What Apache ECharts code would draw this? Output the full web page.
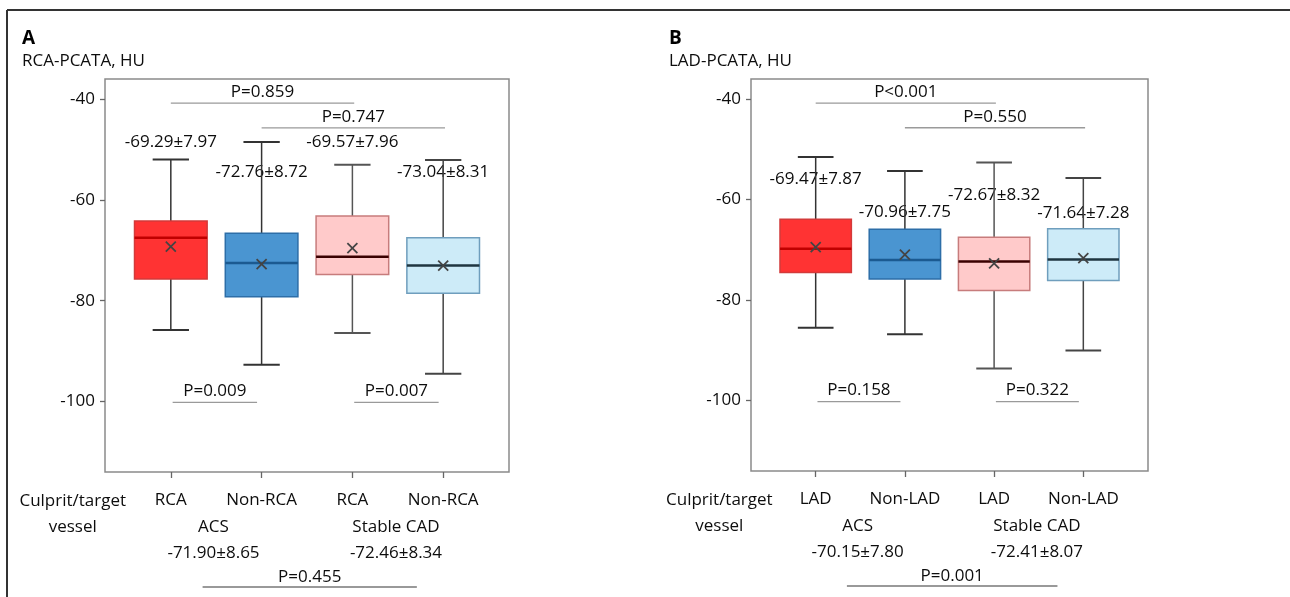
<!DOCTYPE html>
<html>
<head>
<meta charset="utf-8">
<script src="https://cdn.jsdelivr.net/npm/echarts@6/dist/echarts.min.js"></script>
<style>
  html, body { margin: 0; padding: 0; background: #fff; }
  #chart { width: 1290px; height: 597px; }
</style>
</head>
<body>
<div id="chart"></div>
<script>
// ---- data ----
const vesselsA = ['RCA', 'Non-RCA', 'RCA', 'Non-RCA'];
const vesselsB = ['LAD', 'Non-LAD', 'LAD', 'Non-LAD'];
const groups = ['ACS', 'Stable CAD'];
const yTicks = [-40, -60, -80, -100];

// panel A: RCA-PCATA
const lowA = [-85.8, -92.7, -86.4, -94.5];
const q1A = [-75.7, -79.2, -74.8, -78.5];
const medA = [-67.5, -72.5, -71.3, -73.0];
const q3A = [-64.2, -66.6, -63.2, -67.5];
const highA = [-52.0, -48.5, -53.0, -52.1];
const meanA = [-69.29, -72.76, -69.57, -73.04];
const sdA = [7.97, 8.72, 7.96, 8.31];
const groupMeanA = [-71.90, -72.46];
const groupSdA = [8.65, 8.34];
const pAcrossA = ['P=0.859', 'P=0.747'];   // vessel 1 vs 3, 2 vs 4
const pWithinA = ['P=0.009', 'P=0.007'];   // within ACS, within stable CAD
const pGroupA = 'P=0.455';

// panel B: LAD-PCATA
const lowB = [-85.5, -86.8, -93.6, -90.0];
const q1B = [-74.5, -75.8, -78.1, -76.1];
const medB = [-69.8, -72.0, -72.3, -71.9];
const q3B = [-63.9, -65.9, -67.5, -65.8];
const highB = [-51.5, -54.3, -52.6, -55.7];
const meanB = [-69.47, -70.96, -72.67, -71.64];
const sdB = [7.87, 7.75, 8.32, 7.28];
const groupMeanB = [-70.15, -72.41];
const groupSdB = [7.80, 8.07];
const pAcrossB = ['P<0.001', 'P=0.550'];
const pWithinB = ['P=0.158', 'P=0.322'];
const pGroupB = 'P=0.001';

// ---- layout ----
const FONT = '"Open Sans", "Noto Sans", sans-serif';
const TXT = '#0d0d0d';
const Y_MIN = -114, Y_MAX = -36;
const labelLevelA = [-48.5, -54.5, -48.5, -54.5];
const labelLevelB = [-56.0, -62.5, -59.2, -62.6];
const boxColors = [
  { fill: '#ff3333', border: '#d33a3a', median: '#c00000', whisker: '#333' },
  { fill: '#4a95d1', border: '#2d6ea8', median: '#1b5a91', whisker: '#333' },
  { fill: '#ffcaca', border: '#c77c7c', median: '#3a0000', whisker: '#555' },
  { fill: '#cdebf8', border: '#6f9ebd', median: '#1e3540', whisker: '#444' }
];

const fmt = (m, s) => m.toFixed(2) + '±' + s.toFixed(2);

function boxData(low, q1, med, q3, high, mean) {
  return low.map((v, i) => [i + 1, v, q1[i], med[i], q3[i], high[i], mean[i]]);
}

function renderBox(params, api) {
  const x = api.value(0);
  const lo = api.coord([x, api.value(1)]);
  const q1 = api.coord([x, api.value(2)]);
  const md = api.coord([x, api.value(3)]);
  const q3 = api.coord([x, api.value(4)]);
  const hi = api.coord([x, api.value(5)]);
  const mn = api.coord([x, api.value(6)]);
  const bw = api.size([0.8, 0])[0];
  const cw = api.size([0.4, 0])[0];
  const c = boxColors[params.dataIndex];
  const wStyle = { stroke: c.whisker, lineWidth: 1.5 };
  const cx = lo[0];
  const m = 5;
  return {
    type: 'group',
    children: [
      { type: 'line', shape: { x1: cx, y1: hi[1], x2: cx, y2: q3[1] }, style: wStyle },
      { type: 'line', shape: { x1: cx, y1: q1[1], x2: cx, y2: lo[1] }, style: wStyle },
      { type: 'line', shape: { x1: cx - cw / 2, y1: hi[1], x2: cx + cw / 2, y2: hi[1] }, style: { stroke: c.whisker, lineWidth: 2 } },
      { type: 'line', shape: { x1: cx - cw / 2, y1: lo[1], x2: cx + cw / 2, y2: lo[1] }, style: { stroke: c.whisker, lineWidth: 2 } },
      { type: 'rect', shape: { x: cx - bw / 2, y: q3[1], width: bw, height: q1[1] - q3[1] },
        style: { fill: c.fill, stroke: c.border, lineWidth: 1.5 } },
      { type: 'line', shape: { x1: cx - bw / 2, y1: md[1], x2: cx + bw / 2, y2: md[1] }, style: { stroke: c.median, lineWidth: 2.5 } },
      { type: 'line', shape: { x1: mn[0] - m, y1: mn[1] - m, x2: mn[0] + m, y2: mn[1] + m }, style: { stroke: '#444', lineWidth: 1.8 } },
      { type: 'line', shape: { x1: mn[0] - m, y1: mn[1] + m, x2: mn[0] + m, y2: mn[1] - m }, style: { stroke: '#444', lineWidth: 1.8 } }
    ]
  };
}

function text(x, y, s, extra) {
  return { type: 'text', x: x, y: y,
    style: Object.assign({ text: s, fill: TXT, font: '17px ' + FONT, align: 'center', verticalAlign: 'middle' }, extra || {}) };
}
function hline(x1, x2, y, color) {
  return { type: 'line', shape: { x1: x1, y1: y, x2: x2, y2: y }, style: { stroke: color || '#9a9a9a', lineWidth: 1.3 } };
}

function annotations(mean, sd, levels, pAcross, pWithin, pGroup, gMean, gSd) {
  return function (params, api) {
    const kids = [];
    const at = (x, y) => api.coord([x, y]);
    // mean ± SD above each box
    mean.forEach((v, i) => {
      const p = at(i + 1, levels[i]);
      kids.push(text(p[0], p[1], fmt(v, sd[i])));
    });
    // across-group comparisons (top)
    [[1, 3, -40.8], [2, 4, -45.7]].forEach((b, i) => {
      const a = at(b[0], b[2]), z = at(b[1] + 0.02, b[2]);
      kids.push(hline(a[0], z[0], a[1]));
      kids.push(text((a[0] + z[0]) / 2, a[1] - 11, pAcross[i]));
    });
    // within-group comparisons (bottom of plot)
    [1, 3].forEach((s, i) => {
      const a = at(s + 0.02, -100.2), z = at(s + 0.95, -100.2);
      kids.push(hline(a[0], z[0], a[1]));
      kids.push(text((a[0] + z[0]) / 2, a[1] - 11, pWithin[i]));
    });
    // rows under the axis
    const base = at(0, Y_MIN)[1];
    const lx = at(-0.08, Y_MIN)[0];
    kids.push(text(lx, base + 29, 'Culprit/target'));
    kids.push(text(lx, base + 55, 'vessel'));
    [1.47, 3.48].forEach((g, i) => {
      const gx = at(g, Y_MIN)[0];
      kids.push(text(gx, base + 55, groups[i]));
      kids.push(text(gx, base + 81, fmt(gMean[i], gSd[i])));
    });
    const a = at(1.35, Y_MIN)[0], z = at(3.71, Y_MIN)[0];
    kids.push(text((a + z) / 2, base + 105, pGroup));
    kids.push(hline(a, z, base + 115, '#777'));
    return { type: 'group', children: kids };
  };
}

function xAxis(grid, names) {
  return {
    type: 'value', gridIndex: grid, min: 0.275, max: 4.725,
    axisLine: { show: false }, splitLine: { show: false },
    axisTick: { show: true, customValues: [1, 2, 3, 4], length: 6, lineStyle: { color: '#666', width: 1.3 } },
    axisLabel: { customValues: [1, 2, 3, 4], formatter: v => names[Math.round(v) - 1], margin: 20,
      color: TXT, fontSize: 17, fontFamily: FONT }
  };
}
function yAxis(grid) {
  return {
    type: 'value', gridIndex: grid, min: Y_MIN, max: Y_MAX,
    axisLine: { show: false }, splitLine: { show: false },
    axisTick: { show: true, customValues: yTicks, length: 5, lineStyle: { color: '#666', width: 1.3 } },
    axisLabel: { customValues: yTicks, margin: 10, color: TXT, fontSize: 17, fontFamily: FONT }
  };
}

const chart = echarts.init(document.getElementById('chart'), null, { renderer: 'canvas' });
chart.setOption({
  backgroundColor: '#fff',
  animation: false,
  title: [
    { text: 'A', subtext: 'RCA-PCATA, HU', left: 17, top: 24, itemGap: 5,
      textStyle: { fontFamily: FONT, fontSize: 19, fontWeight: 'bold', color: '#000' },
      subtextStyle: { fontFamily: FONT, fontSize: 17, color: TXT } },
    { text: 'B', subtext: 'LAD-PCATA, HU', left: 664, top: 24, itemGap: 5,
      textStyle: { fontFamily: FONT, fontSize: 19, fontWeight: 'bold', color: '#000' },
      subtextStyle: { fontFamily: FONT, fontSize: 17, color: TXT } }
  ],
  grid: [
    { left: 105, top: 79, width: 404, height: 393, show: true, borderColor: '#8a8a8a', borderWidth: 1.5, backgroundColor: 'transparent' },
    { left: 751, top: 79, width: 397, height: 392, show: true, borderColor: '#8a8a8a', borderWidth: 1.5, backgroundColor: 'transparent' }
  ],
  xAxis: [xAxis(0, vesselsA), xAxis(1, vesselsB)],
  yAxis: [yAxis(0), yAxis(1)],
  graphic: [
    { type: 'line', shape: { x1: 7, y1: 10, x2: 1290, y2: 10 }, style: { stroke: '#333', lineWidth: 2 } },
    { type: 'line', shape: { x1: 7, y1: 10, x2: 7, y2: 597 }, style: { stroke: '#333', lineWidth: 2 } }
  ],
  series: [
    { type: 'custom', xAxisIndex: 0, yAxisIndex: 0, z: 3,
      renderItem: annotations(meanA, sdA, labelLevelA, pAcrossA, pWithinA, pGroupA, groupMeanA, groupSdA), data: [[0]] },
    { type: 'custom', xAxisIndex: 1, yAxisIndex: 1, z: 3,
      renderItem: annotations(meanB, sdB, labelLevelB, pAcrossB, pWithinB, pGroupB, groupMeanB, groupSdB), data: [[0]] },
    { type: 'custom', xAxisIndex: 0, yAxisIndex: 0, z: 4, renderItem: renderBox,
      data: boxData(lowA, q1A, medA, q3A, highA, meanA) },
    { type: 'custom', xAxisIndex: 1, yAxisIndex: 1, z: 4, renderItem: renderBox,
      data: boxData(lowB, q1B, medB, q3B, highB, meanB) }
  ]
});
</script>
</body>
</html>
